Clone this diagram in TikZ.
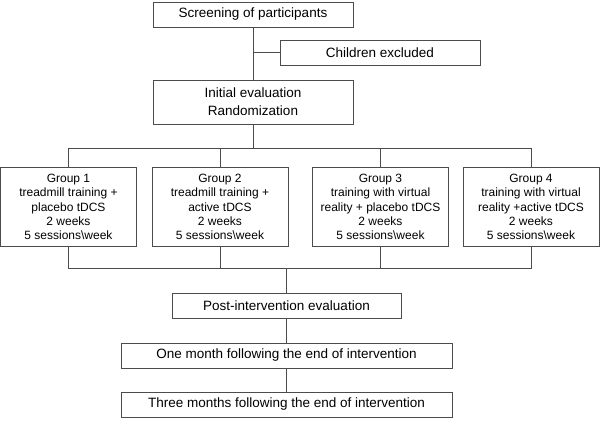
\documentclass[tikz,border=0pt]{standalone}
\usepackage{fontspec}
\setmainfont{Liberation Sans}
\usetikzlibrary{positioning}

\tikzset{
  box/.style = {draw = black!70, line width = 0.9pt, align = center,
                minimum width = 200pt, minimum height = 25pt, inner sep = 2pt,
                font = \fontsize{13.5}{18}\selectfont},
  grp/.style = {box, minimum width = 136pt, minimum height = 79pt,
                font = \fontsize{12}{14.4}\selectfont},
  line/.style = {draw = black!70, line width = 0.9pt}
}

\begin{document}
\begin{tikzpicture}[on grid, auto]
  \useasboundingbox (0,0) rectangle (600pt,-423pt);
  \node[box] (screen) at (253pt,-14.5pt) {Screening of participants};
  \node[box] (excl) [below right=38pt and 127pt of screen] {Children excluded};
  \node[box, minimum height=44pt] (init) [below=87.5pt of screen] {Initial evaluation\\Randomization};
  \node[grp] (g1) at (68.5pt,-207pt) {Group 1\\treadmill training +\\placebo tDCS\\2 weeks\\5 sessions\textbackslash week};
  \node[grp] (g2) [right=151.5pt of g1] {Group 2\\treadmill training +\\active tDCS\\2 weeks\\5 sessions\textbackslash week};
  \node[grp] (g3) [right=160.5pt of g2] {Group 3\\training with virtual\\reality + placebo tDCS\\2 weeks\\5 sessions\textbackslash week};
  \node[grp] (g4) [right=150.5pt of g3] {Group 4\\training with virtual\\reality +active tDCS\\2 weeks\\5 sessions\textbackslash week};
  \node[box, minimum width=229pt] (post) at (286.5pt,-305.5pt) {Post-intervention evaluation};
  \node[box, minimum width=331pt] (month1) [below=50pt of post] {One month following the end of intervention};
  \node[box, minimum width=331pt] (month3) [below=49pt of month1] {Three months following the end of intervention};

  % screening and exclusion
  \draw[line] (screen.south) -- (init.north);
  \draw[line] (excl.west) -- (excl.west -| screen.south);
  % randomization into groups
  \draw[line] (init.south) -- ++(0,-24pt) coordinate (split);
  \draw[line] (g1.north) -- (g1.north |- split) -- (g4.north |- split) -- (g4.north);
  \foreach \g in {g2, g3}
    \draw[line] (\g.north) -- (\g.north |- split);
  % groups to follow-up
  \draw[line] (post.north) -- ++(0,24pt) coordinate (join);
  \draw[line] (g1.south) -- (g1.south |- join) -- (g4.south |- join) -- (g4.south);
  \foreach \g in {g2, g3}
    \draw[line] (\g.south) -- (\g.south |- join);
  \draw[line] (post) -- (month1);
  \draw[line] (month1) -- (month3);
\end{tikzpicture}
\end{document}
